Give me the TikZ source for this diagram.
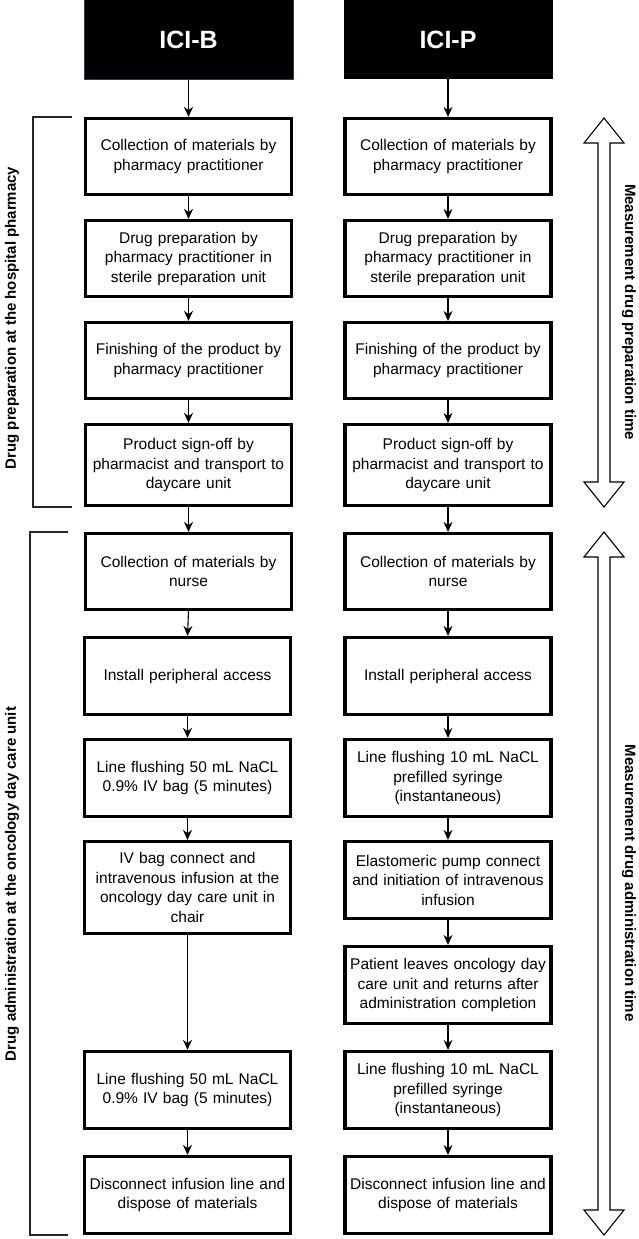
\documentclass[tikz,border=0pt]{standalone}
\usepackage{fontspec}
\setmainfont{Liberation Sans}
\usetikzlibrary{arrows.meta}
\begin{document}
\begin{tikzpicture}[x=1pt,y=-1pt,
  box/.style={draw, line width=3.2pt, minimum width=206pt, minimum height=76pt, text width=204pt, align=center, inner sep=0pt, font=\fontsize{15.5}{19.5}\selectfont},
  hdr/.style={fill=black, text=white, minimum width=209pt, minimum height=79pt, inner sep=0pt, font=\fontsize{25}{30}\selectfont\bfseries},
  conn/.style={-{Stealth[length=10pt,width=9pt]}, line width=1.1pt},
  brk/.style={line width=1.1pt, draw=black!85},
  lbl/.style={font=\fontsize{15}{18}\selectfont\bfseries},
  dbl/.style={line width=1.1pt, fill=white}
]
\useasboundingbox (0,0) rectangle (639,1239);
% headers
\node[hdr, draw={rgb,255:red,45;green,60;blue,80}, line width=1pt] (hB) at (188.5,39.5) {ICI-B};
\node[hdr] (hP) at (448,39.5) {ICI-P};
% left column
\node[box] (b1) at (188.5,156.5) {Collection of materials by\\pharmacy practitioner};
\node[box] (b2) at (188.5,258.5) {Drug preparation by\\pharmacy practitioner in\\sterile preparation unit};
\node[box] (b3) at (188.5,360.5) {Finishing of the product by\\pharmacy practitioner};
\node[box, minimum height=81pt] (b4) at (188.5,465) {Product sign-off by\\pharmacist and transport to\\daycare unit};
\node[box] (b5) at (188.5,571.5) {Collection of materials by\\nurse};
\node[box, minimum height=77pt] (b6) at (187.5,676) {Install peripheral access};
\node[box, minimum height=77pt] (b7) at (187.5,778) {Line flushing 50 mL NaCL\\0.9\% IV bag (5 minutes)};
\node[box, minimum height=92pt] (b8) at (187.5,887.5) {IV bag connect and\\intravenous infusion at the\\oncology day care unit in\\chair};
\node[box, minimum height=77pt] (b10) at (187.5,1090) {Line flushing 50 mL NaCL\\0.9\% IV bag (5 minutes)};
\node[box, minimum height=77pt] (b11) at (187.5,1195) {Disconnect infusion line and\\dispose of materials};
% right column
\node[box] (p1) at (448,156.5) {Collection of materials by\\pharmacy practitioner};
\node[box] (p2) at (448,258.5) {Drug preparation by\\pharmacy practitioner in\\sterile preparation unit};
\node[box] (p3) at (448,360.5) {Finishing of the product by\\pharmacy practitioner};
\node[box, minimum height=81pt] (p4) at (448,465) {Product sign-off by\\pharmacist and transport to\\daycare unit};
\node[box] (p5) at (448,571.5) {Collection of materials by\\nurse};
\node[box, minimum height=77pt] (p6) at (448,676) {Install peripheral access};
\node[box, minimum height=77pt] (p7) at (448,778) {Line flushing 10 mL NaCL\\prefilled syringe\\(instantaneous)};
\node[box, minimum height=77pt] (p8) at (448,880) {Elastomeric pump connect\\and initiation of intravenous\\infusion};
\node[box, minimum height=77pt] (p9) at (448,985) {Patient leaves oncology day\\care unit and returns after\\administration completion};
\node[box, minimum height=77pt] (p10) at (448,1090) {Line flushing 10 mL NaCL\\prefilled syringe\\(instantaneous)};
\node[box, minimum height=77pt] (p11) at (448,1195) {Disconnect infusion line and\\dispose of materials};
% connectors
\foreach \a/\b in {hB/b1,b1/b2,b2/b3,b3/b4,b4/b5,b5/b6,b6/b7,b7/b8,b8/b10,b10/b11,
                   hP/p1,p1/p2,p2/p3,p3/p4,p4/p5,p5/p6,p6/p7,p7/p8,p8/p9,p9/p10,p10/p11}
  \draw[conn] (\a.south) -- (\b.north);
% brackets
\draw[brk] (72,117) -- (33,117) -- (33,507) -- (72,507);
\draw[brk] (68,532) -- (30,532) -- (30,1235) -- (68,1235);
\node[lbl, rotate=90] (lp) at (12,318) {Drug preparation at the hospital pharmacy};
\node[lbl, rotate=90] (la) at (12,884) {Drug administration at the oncology day care unit};
% measurement arrows
\draw[dbl] (604,118) -- (624,143) -- (610,143) -- (610,482) -- (624,482) -- (604,507)
  -- (584,482) -- (598,482) -- (598,143) -- (584,143) -- cycle;
\draw[dbl] (604,532) -- (624,557) -- (610,557) -- (610,1210) -- (624,1210) -- (604,1235)
  -- (584,1210) -- (598,1210) -- (598,557) -- (584,557) -- cycle;
\node[lbl, rotate=-90] (mp) at (629,312) {Measurement drug preparation time};
\node[lbl, rotate=-90] (ma) at (629,883) {Measurement drug administration time};
\end{tikzpicture}
\end{document}
